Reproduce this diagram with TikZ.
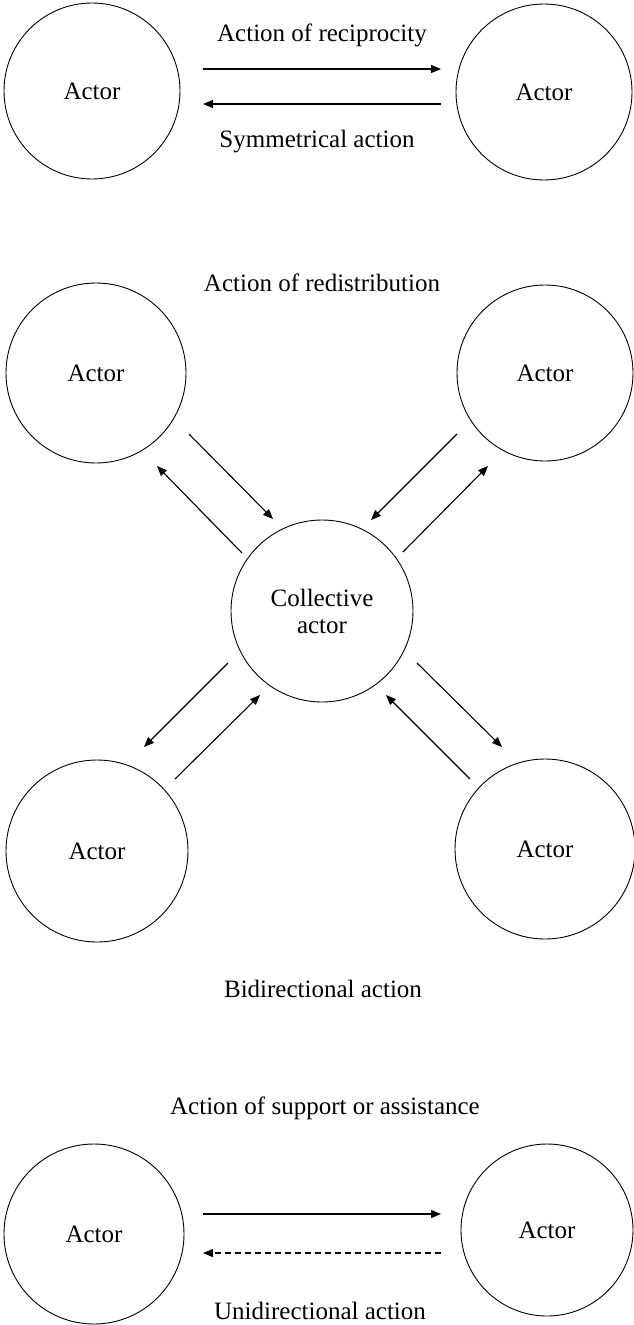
\documentclass[tikz,border=0pt]{standalone}
\usepackage{fontspec}
\setmainfont{Liberation Serif}
\usetikzlibrary{arrows.meta}
\begin{document}
\begin{tikzpicture}[x=1pt,y=-1pt,
  actor/.style={draw, circle, line width=0.9pt, inner sep=0pt, minimum size=176pt,
    font=\fontsize{25}{27}\selectfont, align=center},
  lbl/.style={anchor=base, inner sep=0pt, font=\fontsize{25}{27}\selectfont},
  conn/.style={line width=1.1pt, -{Triangle[length=10pt,width=8pt]}},
  weak/.style={conn, dash pattern=on 6pt off 4pt}]
\useasboundingbox (0,0) rectangle (633,1325);

% --- reciprocity ---
\node[actor] (r1) at (92,91) {Actor};
\node[actor] (r2) at (544,92) {Actor};
\node[lbl] (lrec) at (322,41) {Action of reciprocity};
\node[lbl] (lsym) at (317,147) {Symmetrical action};
\coordinate (r1a) at (203,69);  \coordinate (r2a) at (441,69);
\coordinate (r1b) at (203,104); \coordinate (r2b) at (441,104);
\draw[conn] (r1a) -- (r2a);
\draw[conn] (r2b) -- (r1b);

% --- redistribution ---
\node[lbl] (lred) at (322,291) {Action of redistribution};
\node[actor, minimum size=180pt] (tl) at (96,373) {Actor};
\node[actor] (tr) at (545,373) {Actor};
\node[actor, minimum size=182pt] (c) at (322,611) {Collective\\actor};
\node[actor, minimum size=182pt] (bl) at (97,851) {Actor};
\node[actor, minimum size=180pt] (br) at (545,849) {Actor};
\node[lbl] (lbi) at (323,997) {Bidirectional action};

\coordinate (tl1) at (189,434); \coordinate (c1) at (273,519);
\coordinate (c2) at (242,553);  \coordinate (tl2) at (157,466);
\coordinate (tr1) at (457,434); \coordinate (c3) at (371,520);
\coordinate (c4) at (403,552);  \coordinate (tr2) at (488,466);
\coordinate (c5) at (228,663);  \coordinate (bl1) at (144,747);
\coordinate (bl2) at (175,779); \coordinate (c6) at (260,695);
\coordinate (c7) at (417,663);  \coordinate (br1) at (502,747);
\coordinate (br2) at (470,779); \coordinate (c8) at (386,695);
\draw[conn] (tl1) -- (c1);
\draw[conn] (c2) -- (tl2);
\draw[conn] (tr1) -- (c3);
\draw[conn] (c4) -- (tr2);
\draw[conn] (c5) -- (bl1);
\draw[conn] (bl2) -- (c6);
\draw[conn] (c7) -- (br1);
\draw[conn] (br2) -- (c8);

% --- support ---
\node[lbl] (lsup) at (325,1114) {Action of support or assistance};
\node[actor, minimum size=180pt] (s1) at (94,1234) {Actor};
\node[actor, minimum size=172pt] (s2) at (547,1230) {Actor};
\node[lbl] (luni) at (320,1319) {Unidirectional action};
\coordinate (s1a) at (203,1214); \coordinate (s2a) at (441,1214);
\coordinate (s1b) at (203,1253); \coordinate (s2b) at (441,1253);
\draw[conn] (s1a) -- (s2a);
\draw[weak] (s2b) -- (s1b);
\end{tikzpicture}
\end{document}
